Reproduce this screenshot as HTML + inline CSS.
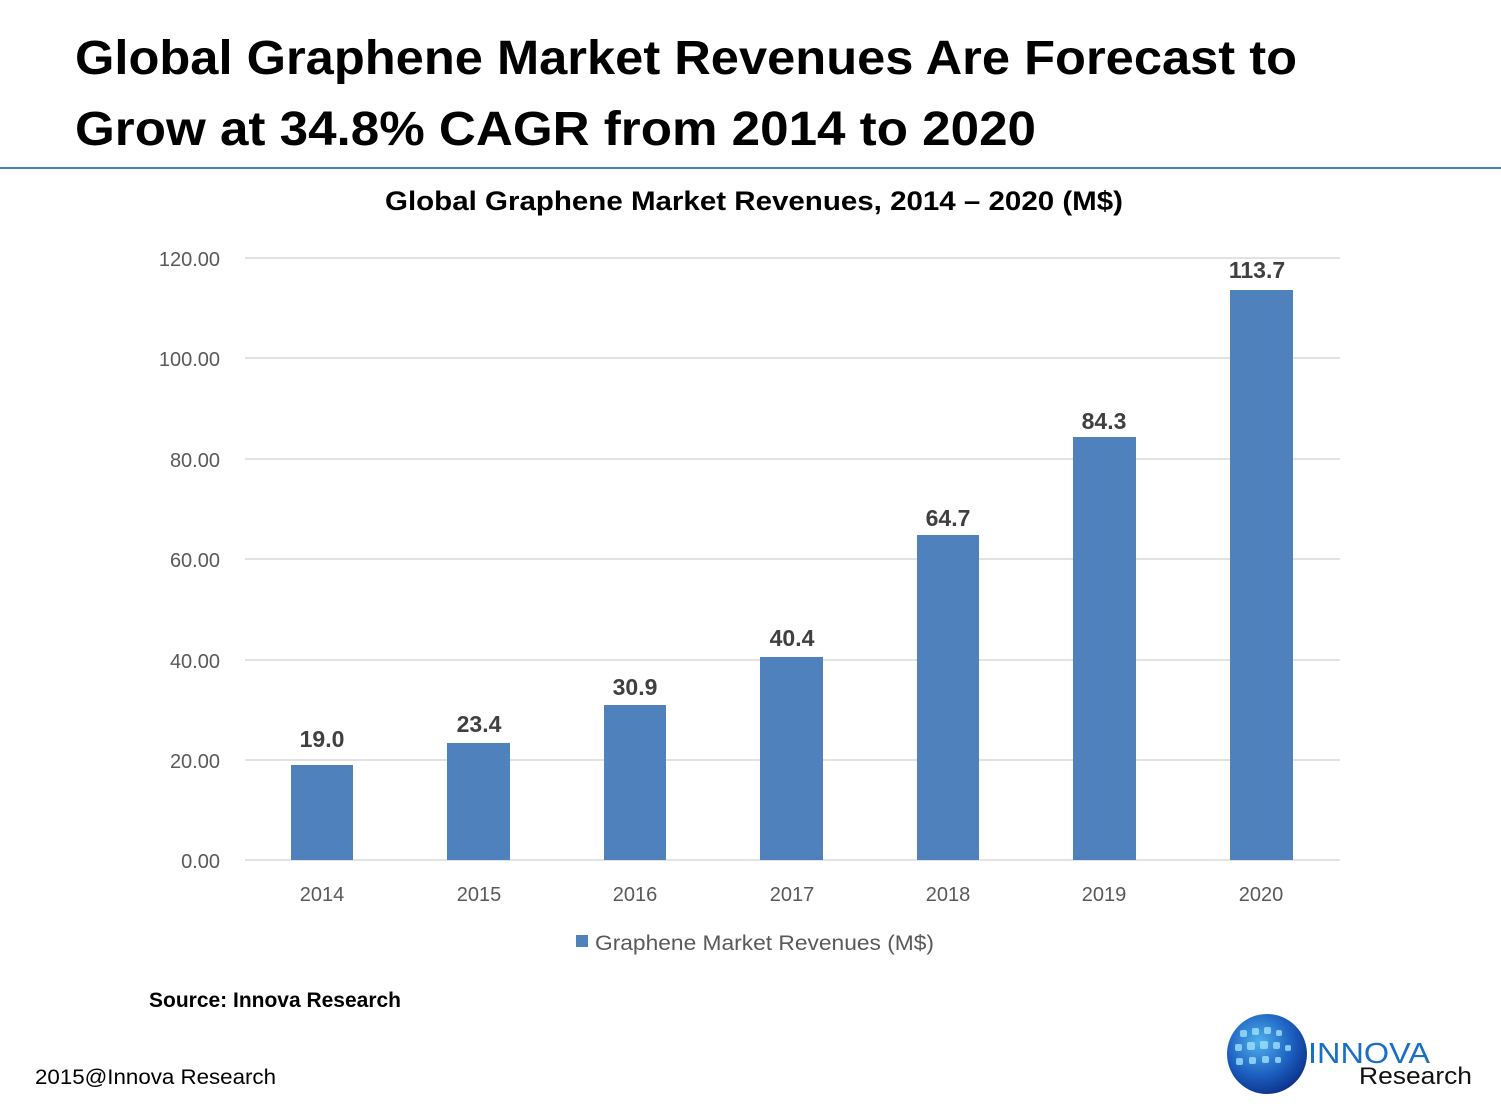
<!DOCTYPE html>
<html><head><meta charset="utf-8"><style>body{margin:0;background:#fff}svg{display:block}</style></head>
<body>
<svg width="1501" height="1107" viewBox="0 0 1501 1107" xmlns="http://www.w3.org/2000/svg" font-family="Liberation Sans, sans-serif">
<defs>
<radialGradient id="g" cx="0.4" cy="0.35" r="0.7"><stop offset="0" stop-color="#4fb0ea"/><stop offset="0.6" stop-color="#1c5fc0"/><stop offset="1" stop-color="#0b2f86"/></radialGradient>
</defs>
<text x="75" y="74" font-size="48" font-weight="bold" textLength="1222" lengthAdjust="spacingAndGlyphs">Global Graphene Market Revenues Are Forecast to</text>
<text x="75" y="145" font-size="48" font-weight="bold" textLength="961" lengthAdjust="spacingAndGlyphs">Grow at 34.8% CAGR from 2014 to 2020</text>
<line x1="0" y1="168" x2="1501" y2="168" stroke="#4a7ebb" stroke-width="2"/>
<text x="754" y="210" font-size="27" font-weight="bold" text-anchor="middle" textLength="738" lengthAdjust="spacingAndGlyphs">Global Graphene Market Revenues, 2014 – 2020 (M$)</text>
<g stroke="#d9d9d9" stroke-width="1.5">
<line x1="245" y1="258" x2="1340" y2="258"/><line x1="245" y1="358" x2="1340" y2="358"/><line x1="245" y1="459" x2="1340" y2="459"/><line x1="245" y1="559" x2="1340" y2="559"/><line x1="245" y1="660" x2="1340" y2="660"/><line x1="245" y1="760" x2="1340" y2="760"/><line x1="245" y1="860" x2="1340" y2="860"/>
</g>
<g font-size="20" fill="#595959" text-anchor="end">
<text x="220" y="266">120.00</text><text x="220" y="366">100.00</text><text x="220" y="467">80.00</text><text x="220" y="567">60.00</text><text x="220" y="668">40.00</text><text x="220" y="768">20.00</text><text x="220" y="868">0.00</text>
</g>
<g fill="#4f81bd">
<rect x="291" y="765" width="62" height="95"/><rect x="447" y="743" width="63" height="117"/><rect x="604" y="705" width="62" height="155"/><rect x="760" y="657" width="63" height="203"/><rect x="917" y="535" width="62" height="325"/><rect x="1073" y="437" width="63" height="423"/><rect x="1230" y="290" width="63" height="570"/>
</g>
<g font-size="23" font-weight="bold" fill="#404040" text-anchor="middle">
<text x="322" y="747">19.0</text><text x="479" y="732">23.4</text><text x="635" y="695">30.9</text><text x="792" y="646">40.4</text><text x="948" y="526">64.7</text><text x="1104" y="429">84.3</text><text x="1257" y="278">113.7</text>
</g>
<g font-size="20" fill="#595959" text-anchor="middle">
<text x="322" y="901">2014</text><text x="479" y="901">2015</text><text x="635" y="901">2016</text><text x="792" y="901">2017</text><text x="948" y="901">2018</text><text x="1104" y="901">2019</text><text x="1261" y="901">2020</text>
</g>
<rect x="576" y="935" width="12" height="12" fill="#4f81bd"/>
<text x="595" y="950" font-size="21" fill="#595959" textLength="339" lengthAdjust="spacingAndGlyphs">Graphene Market Revenues (M$)</text>
<text x="149" y="1007" font-size="21" font-weight="bold" textLength="252" lengthAdjust="spacingAndGlyphs">Source: Innova Research</text>
<text x="35" y="1084" font-size="21" textLength="241" lengthAdjust="spacingAndGlyphs">2015@Innova Research</text>
<circle cx="1267" cy="1054" r="40" fill="url(#g)"/>
<g fill="#9fe0ff" opacity="0.8">
<rect x="1240" y="1030" width="7" height="7" rx="2"/><rect x="1252" y="1028" width="7" height="7" rx="2"/><rect x="1264" y="1027" width="7" height="7" rx="2"/><rect x="1276" y="1030" width="6" height="6" rx="2"/>
<rect x="1235" y="1044" width="7" height="7" rx="2"/><rect x="1247" y="1042" width="8" height="8" rx="2"/><rect x="1260" y="1041" width="8" height="8" rx="2"/><rect x="1273" y="1042" width="7" height="7" rx="2"/><rect x="1285" y="1045" width="6" height="6" rx="2"/>
<rect x="1236" y="1058" width="7" height="7" rx="2"/><rect x="1249" y="1057" width="7" height="7" rx="2"/><rect x="1262" y="1056" width="7" height="7" rx="2"/><rect x="1275" y="1057" width="6" height="6" rx="2"/>
</g>
<text x="1308" y="1063" font-size="29" fill="#1a6fc4" textLength="122" lengthAdjust="spacingAndGlyphs">INNOVA</text>
<text x="1359" y="1084" font-size="24" fill="#111" textLength="113" lengthAdjust="spacingAndGlyphs">Research</text>
</svg>
</body></html>
